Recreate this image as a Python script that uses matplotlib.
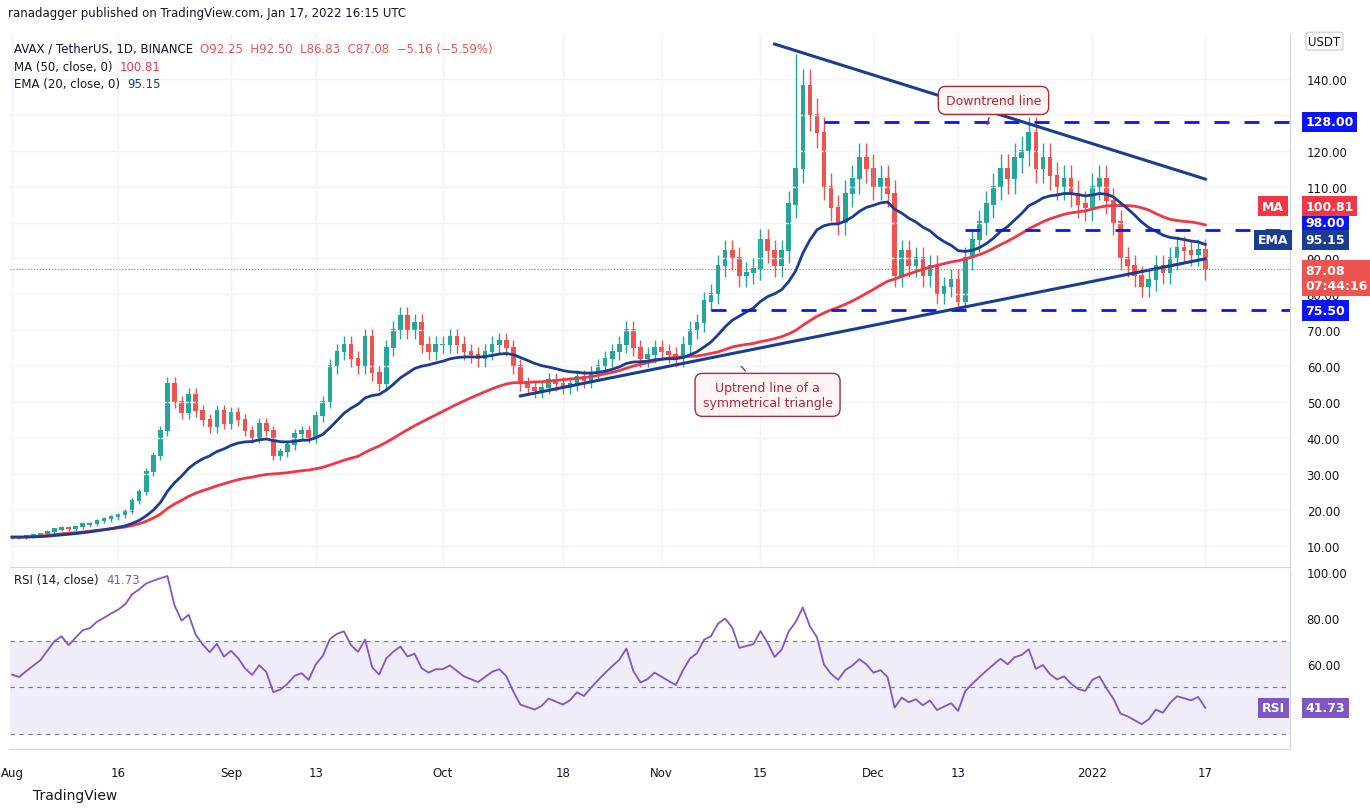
import matplotlib.pyplot as plt
import numpy as np
import pandas as pd

# daily closes, Aug 1 2021 .. Jan 17 2022
closes = [12.4, 12.3, 12.6, 12.9, 13.2, 13.8, 14.5, 14.9, 14.6, 15.2, 15.9, 16.1, 16.8, 17.3, 17.9,
          18.5, 19.5, 22.5, 25.0, 30.5, 35.0, 42.0, 55.0, 50.0, 47.0, 52.0, 47.5, 45.0, 43.0, 47.5, 44.0,
          47, 45, 42, 40, 44, 42, 35, 36, 38, 41, 42, 40, 46, 50, 60, 64, 66, 62, 60, 68, 58, 55, 65, 70, 74, 70, 72, 66, 64, 66,
          66, 68, 66, 64, 63, 62, 64, 66, 67, 65, 60, 55, 54, 53, 54, 56, 55, 54, 55, 57, 56, 58, 60, 62, 64, 66, 70, 65, 62, 63, 65,
          64, 63, 62, 66, 70, 72, 78, 80, 88, 92, 90, 85, 86, 87, 95, 92, 88, 92, 105, 115, 138, 130, 125, 110, 104, 100, 108, 112, 118, 115,
          110, 112, 108, 85, 92, 88, 90, 85, 88, 80, 82, 84, 78, 90, 95, 100, 105, 110, 115, 112, 118, 120, 125, 115, 118, 113, 110, 112, 108, 105, 104,
          110, 112, 106, 100, 90, 88, 85, 82, 84, 88, 86, 90, 93, 92, 91, 92.25, 87.08]
tick_pos = [0, 15, 31, 43, 61, 78, 92, 106, 122, 134, 153, 169]
tick_lab = ['Aug', '16', 'Sep', '13', 'Oct', '18', 'Nov', '15', 'Dec', '13', '2022', '17']
levels = [128.0, 98.0, 75.5]
level_start = [115, 135, 99]
down_line = ([108, 169], [149.7, 112.1])
up_line = ([72, 169], [51.7, 89.9])

GREEN = '#26a69a'
RED = '#ef5350'
BLUE = '#0a14f5'
NAVY = '#1b3d8f'
MARED = '#f23645'

c = np.array(closes)
o = np.concatenate([[12.3], c[:-1]])
hi = np.maximum(o, c) * 1.035
lo = np.minimum(o, c) * 0.965
hi[111] = 147.0
x = np.arange(len(c))
col = np.where(c >= o, GREEN, RED)

s = pd.Series(c)
ma50 = s.rolling(50, min_periods=1).mean()
ema20 = s.ewm(span=20, adjust=False).mean()
d = s.diff().fillna(0)
ag, al = 0.25, 0.2  # averages carried in from July
rsi = []
for v in d:
    ag = (ag * 13 + max(v, 0)) / 14
    al = (al * 13 + max(-v, 0)) / 14
    rsi.append(100 - 100 / (1 + ag / al))
rsi = np.array(rsi)

fig = plt.figure(figsize=(13.7, 8.12), dpi=100)
plt.rcParams['font.size'] = 8.5

# main price panel
ax1 = plt.axes([0.0073, 0.3005, 0.9343, 0.6564])
plt.grid(color='#f0f3fa', linewidth=1)
plt.vlines(x, lo, hi, color=col, linewidth=1)
plt.bar(x, np.abs(c - o) + 0.3, bottom=np.minimum(o, c), color=col, width=0.65)
plt.plot(x, ma50, color=MARED, linewidth=2)
plt.plot(x, ema20, color=NAVY, linewidth=2)
for lv, st in zip(levels, level_start):
    plt.plot([st, 181], [lv, lv], color=BLUE, linewidth=2, dashes=(5.4, 5.4))
plt.plot(*down_line, color=NAVY, linewidth=2.2)
plt.plot(*up_line, color=NAVY, linewidth=2.2)
plt.axhline(c[-1], color=RED, linewidth=0.8, linestyle=':')
plt.xlim(-0.3, 181)
plt.ylim(4.07, 152.5)
plt.xticks(tick_pos, [])
ax1.tick_params(axis='x', length=0)
plt.yticks(np.arange(10, 150, 10), ['%.2f' % v for v in np.arange(10, 150, 10)])
ax1.yaxis.tick_right()
ax1.tick_params(axis='y', length=0, labelcolor='#131722', pad=12)
for sp in ['top', 'left']:
    ax1.spines[sp].set_visible(False)
ax1.spines['right'].set_color('#d1d4dc')
ax1.spines['bottom'].set_color('#d1d4dc')

def tag(y, txt, fc, tx=1.012, ax=ax1):
    ax.text(tx, y, txt, transform=ax.get_yaxis_transform(), color='white', fontsize=9,
            fontweight='bold', va='center', bbox=dict(boxstyle='square,pad=0.3', fc=fc, ec='none'))

tag(128, '128.00', BLUE)
tag(99.9, '98.00', BLUE)
tag(75.5, '75.50', BLUE)
tag(95.2, '95.15', NAVY)
tag(95.2, 'EMA', NAVY, tx=0.975)
tag(104.6, '100.81', MARED)
tag(104.6, 'MA', MARED, tx=0.978)
tag(84.6, '87.08\n07:44:16', RED)

box = dict(boxstyle='round,pad=0.6', fc='#fff5f5', ec='#b22833', lw=1)
plt.annotate('Downtrend line', xy=(138, 126.5), xytext=(139, 134), ha='center', va='center',
             color='#b22833', fontsize=9, bbox=box,
             arrowprops=dict(arrowstyle='-', color='#b22833', lw=1))
plt.annotate('Uptrend line of a\nsymmetrical triangle', xy=(103, 60.5), xytext=(107, 52), ha='center',
             va='center', color='#b22833', fontsize=9, bbox=box,
             arrowprops=dict(arrowstyle='-', color='#b22833', lw=1))

def header(ax, y, parts):
    t = ax.text(0.003, y, parts[0][0], transform=ax.transAxes, va='top', color=parts[0][1])
    for txt, cl in parts[1:]:
        t = ax.annotate(txt, xy=(1, 0), xycoords=t, va='bottom', color=cl)

header(ax1, 0.985, [('AVAX / TetherUS, 1D, BINANCE  ', '#131722'),
                    ('O92.25  H92.50  L86.83  C87.08  \u22125.16 (\u22125.59%)', RED)])
header(ax1, 0.952, [('MA (50, close, 0)  ', '#131722'), ('100.81', MARED)])
header(ax1, 0.919, [('EMA (20, close, 0)  ', '#131722'), ('95.15', NAVY)])

# RSI panel
ax2 = plt.axes([0.0073, 0.0764, 0.9343, 0.2217])
plt.axhspan(30, 70, color='#7e57c2', alpha=0.1, linewidth=0)
for lv in [70, 50, 30]:
    plt.axhline(lv, color='#787b86', linewidth=0.8, dashes=(4, 4))
plt.plot(x, rsi, color='#7e57c2', linewidth=1.3)
plt.xlim(-0.3, 181)
plt.ylim(23.4, 101.3)
plt.xticks(tick_pos, tick_lab)
plt.yticks([100, 80, 60], ['100.00', '80.00', '60.00'])
ax2.yaxis.tick_right()
ax2.tick_params(length=0, labelcolor='#131722', pad=12)
for sp in ['top', 'left']:
    ax2.spines[sp].set_visible(False)
ax2.spines['right'].set_color('#d1d4dc')
ax2.spines['bottom'].set_color('#d1d4dc')
header(ax2, 0.98, [('RSI (14, close)  ', '#131722'), ('41.73', '#7e57c2')])
tag(rsi[-1], 'RSI', '#7e57c2', tx=0.978, ax=ax2)
tag(rsi[-1], '41.73', '#7e57c2', ax=ax2)

fig.text(0.006, 0.983, 'ranadagger published on TradingView.com, Jan 17, 2022 16:15 UTC', fontsize=8.5,
         color='#131722', va='center')
fig.text(0.024, 0.02, 'TradingView', fontsize=10, color='#131722', va='center')
fig.text(0.955, 0.948, 'USDT', fontsize=8.5, color='#131722', va='center',
         bbox=dict(boxstyle='round,pad=0.2', fc='white', ec='#d1d4dc'))

plt.savefig('out.png', dpi=100)
